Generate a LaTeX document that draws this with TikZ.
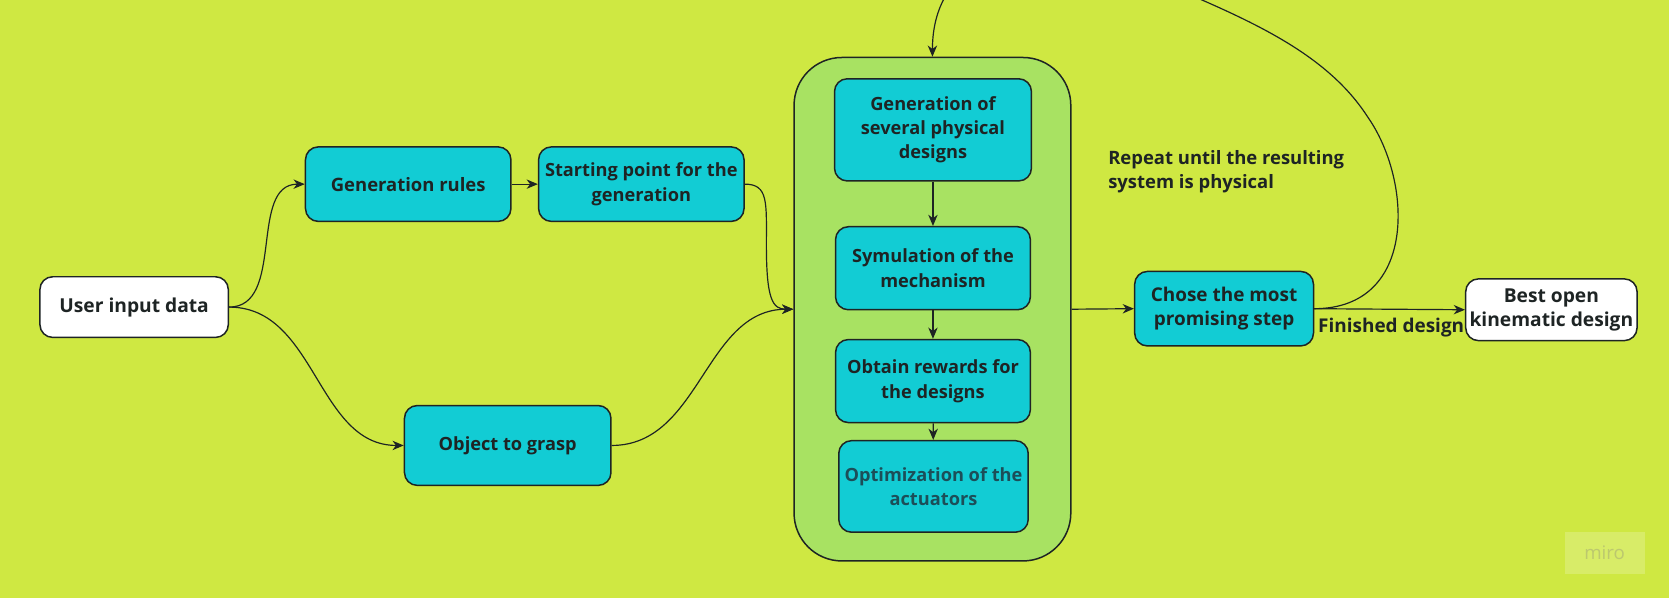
\documentclass[tikz,border=0pt]{standalone}
\usepackage{fontspec}
\setmainfont{Open Sans}
\usetikzlibrary{arrows.meta}
\definecolor{bgc}{RGB}{207,232,66}
\definecolor{cyanbox}{RGB}{18,204,212}
\definecolor{contc}{RGB}{168,226,98}
\definecolor{inkc}{RGB}{30,36,36}
\definecolor{optc}{RGB}{28,78,88}
\definecolor{miroc}{RGB}{216,236,104}
\definecolor{mirot}{RGB}{188,200,110}
\newcommand{\fs}[1]{\fontsize{#1}{19.5}\selectfont\bfseries}
\begin{document}
\begin{tikzpicture}[x=0.03cm,y=-0.03cm,
  box/.style n args={2}{draw=inkc,line width=1.2pt,rounded corners=0.36cm,
    minimum width=#1*0.03cm,minimum height=#2*0.03cm,inner sep=0pt,
    align=center,font=\fs{14.6},text=inkc},
  cbox/.style n args={2}{box={#1}{#2},fill=cyanbox},
  wbox/.style n args={2}{box={#1}{#2},fill=white},
  conn/.style={draw=inkc,line width=0.95pt},
  arr/.style={conn,-{Stealth[length=9pt,width=7.5pt,inset=2.8pt]}},
  lbl/.style={font=\fs{14.6},text=inkc,inner sep=0pt}]
\useasboundingbox (0,0) rectangle (1568,562);
\fill[bgc] (0,0) rectangle (1568,562);
\clip (0,0) rectangle (1568,562);

% container
\node[draw=inkc,line width=1.2pt,fill=contc,rounded corners=1.35cm,
  minimum width=260*0.03cm,minimum height=473*0.03cm,inner sep=0pt] (cont) at (876,290.5) {};

% nodes
\node[wbox={177}{57},font=\fs{15.4}] (user) at (126,288.5) {User input data};
\node[cbox={193}{70},font=\fs{14.8}] (rules) at (383.5,173) {Generation rules};
\node[cbox={193}{70}] (start) at (602.5,173) {Starting point for the\\generation};
\node[cbox={194}{75}] (obj) at (477,418.5) {Object to grasp};
\node[cbox={185}{96}] (gen) at (876.5,122) {Generation of\\several physical\\designs};
\node[cbox={183}{78}] (sym) at (876.5,252) {Symulation of the\\mechanism};
\node[cbox={183}{78}] (rew) at (876.5,358) {Obtain rewards for\\the designs};
\node[cbox={178}{86},text=optc] (opt) at (877,457) {Optimization of the\\actuators};
\node[cbox={168}{70},font=\fs{15.2}] (chose) at (1150,290) {Chose the most\\promising step};
\node[wbox={161}{58},font=\fs{15.4}] (best) at (1457.5,291) {Best open\\kinematic design};

\node[lbl,anchor=west,align=left,font=\fs{14.8}] (rep) at (1041,161.5) {Repeat until the resulting\\system is physical};
\node[lbl,anchor=north,font=\fs{15.2}] (fin) at (1307,298.5) {Finished design};

% miro watermark
\node[fill=miroc,minimum width=75*0.03cm,minimum height=40*0.03cm,inner sep=0pt,
  text=mirot,font=\fontsize{15}{16}\selectfont] (miro) at (1507.5,519.5) {miro};

% connectors
\draw[arr] (user.east) to[out=0,in=180] (rules.west);
\draw[arr] (user.east) to[out=0,in=180] (obj.west);
\draw[arr] (rules) -- (start);
\coordinate (cin) at (cont.west);
\draw[arr] (start.east) .. controls (722,173) and (720,190) .. (720,230)
  .. controls (720,282) and (726,290.5) .. (cin);
\draw[arr] (obj.east) to[out=0,in=180] (cin);
\draw[arr] (gen) -- (sym);
\draw[arr] (sym) -- (rew);
\draw[arr] (rew) -- (opt);
\draw[arr] (cont.east) -- (chose.west);
\draw[arr] (chose.east) -- (best.west);
\draw[arr] (chose.east) .. controls (1332,290) and (1327,170) .. (1285,110)
  .. controls (1240,40) and (1150,10) .. (1060,-30)
  .. controls (960,-70) and (876,-40) .. (cont.north);
\end{tikzpicture}
\end{document}
